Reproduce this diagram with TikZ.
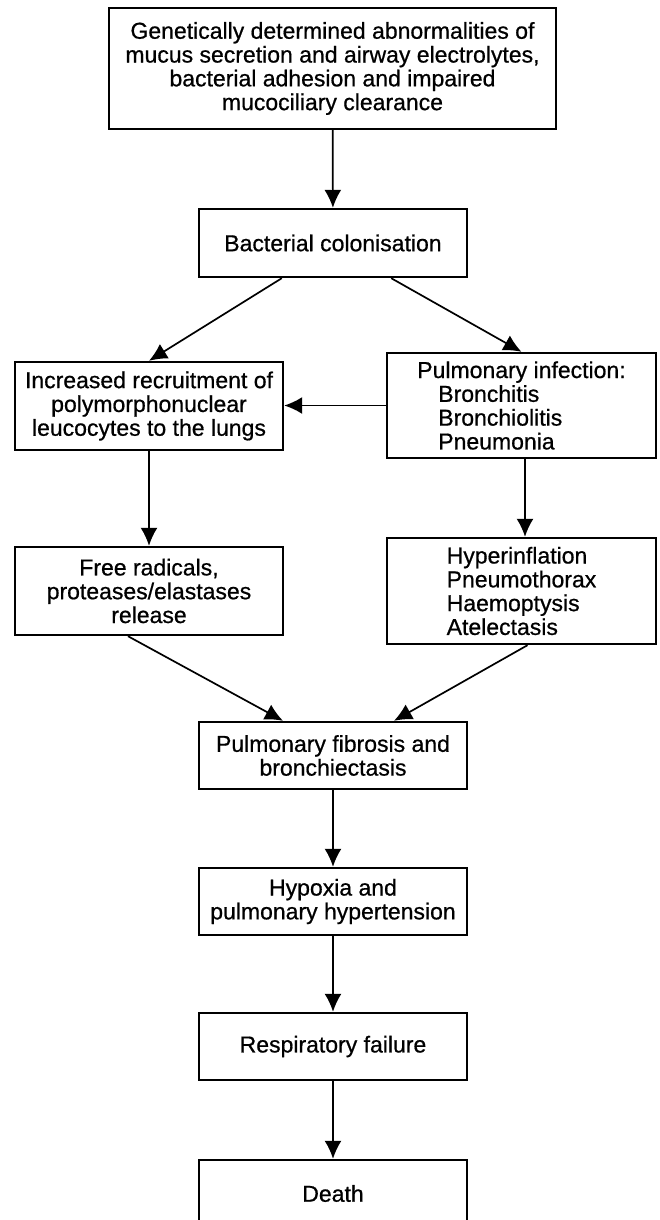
\documentclass[tikz,border=0pt]{standalone}
\usepackage{fontspec}
\setmainfont[FakeBold=0.7]{Liberation Sans}
\usetikzlibrary{arrows.meta}

\begin{document}
\begin{tikzpicture}[x=0.5pt,y=-0.5pt, every node/.style={draw=none, anchor=center, align=center, font=\fontsize{11.5}{11.9}\selectfont},
  box/.style={draw, line width=1.2pt, inner sep=0pt, minimum width=134pt, minimum height=33.5pt},
  link/.style={line width=0.85pt, -{Latex[length=9pt,width=8.5pt]}}]
\useasboundingbox (0,0) rectangle (659,1220);
\clip (0,0) rectangle (659,1220);

\node[box, minimum width=223.5pt, minimum height=60.5pt] (genes) at (332.5,68.5) {Genetically determined abnormalities of\\mucus secretion and airway electrolytes,\\bacterial adhesion and impaired\\mucociliary clearance};
\node[box, minimum height=34pt] (colon) at (333,243) {Bacterial colonisation};
\node[box, minimum height=44pt] (recruit) at (149,406) {Increased recruitment of\\polymorphonuclear\\leucocytes to the lungs};
\node[box, minimum width=134.5pt, minimum height=52.5pt, align=left] (infect) at (521.5,405.5) {Pulmonary infection:\\\hspace*{10.5pt}Bronchitis\\\hspace*{10.5pt}Bronchiolitis\\\hspace*{10.5pt}Pneumonia};
\node[box, minimum height=44pt] (radicals) at (149,591) {Free radicals,\\proteases/elastases\\release};
\node[box, minimum width=134.5pt, minimum height=53pt, align=left] (complic) at (521.5,591) {Hyperinflation\\Pneumothorax\\Haemoptysis\\Atelectasis};
\node[box] (fibrosis) at (333,755.5) {Pulmonary fibrosis and\\bronchiectasis};
\node[box] (hypoxia) at (333,901.5) {Hypoxia and\\pulmonary hypertension};
\node[box] (failure) at (333,1046.5) {Respiratory failure};
\node[box] (death) at (333,1193.5) {Death};

\draw[link] (genes) -- (colon);
\draw[link] ([xshift=42pt]colon.south west) -- (recruit.north);
\draw[link] ([xshift=-38.5pt]colon.south east) -- (infect.north);
\draw[link] (infect.west) -- (infect.west -| recruit.east);
\draw[link] (recruit) -- (radicals);
\draw[link] ([xshift=1.75pt]infect.south) -- ([xshift=1.75pt]complic.north);
\draw[link] ([xshift=-10.5pt]radicals.south) -- ([xshift=-25pt]fibrosis.north);
\draw[link] ([xshift=3pt]complic.south) -- ([xshift=30.5pt]fibrosis.north);
\draw[link] (fibrosis) -- (hypoxia);
\draw[link] (hypoxia) -- (failure);
\draw[link] (failure) -- (death);

\end{tikzpicture}
\end{document}
